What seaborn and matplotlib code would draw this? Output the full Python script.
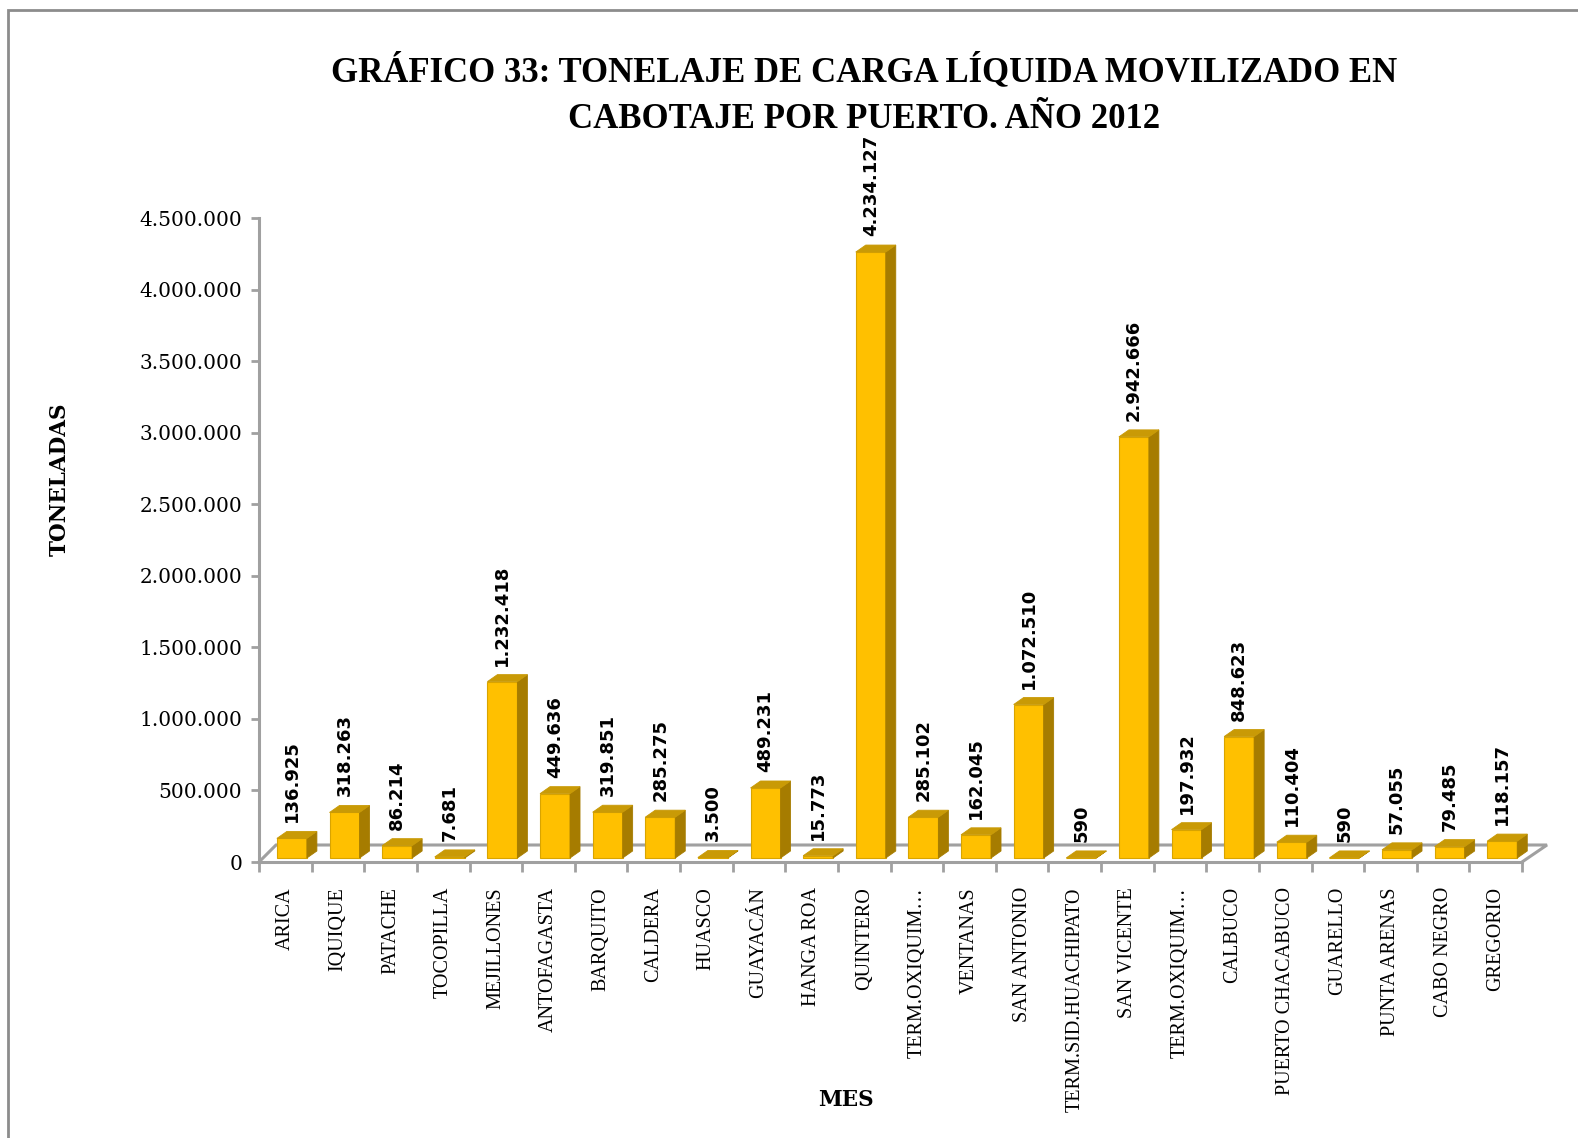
import matplotlib
matplotlib.use('Agg')
import numpy as np
import pandas as pd
import matplotlib.pyplot as plt
import seaborn as sns
from matplotlib.patches import Polygon, Rectangle

# --- data ---
puertos = ['ARICA', 'IQUIQUE', 'PATACHE', 'TOCOPILLA', 'MEJILLONES', 'ANTOFAGASTA',
           'BARQUITO', 'CALDERA', 'HUASCO', 'GUAYACÁN', 'HANGA ROA', 'QUINTERO',
           'TERM.OXIQUIM…', 'VENTANAS', 'SAN ANTONIO', 'TERM.SID.HUACHIPATO',
           'SAN VICENTE', 'TERM.OXIQUIM…', 'CALBUCO', 'PUERTO CHACABUCO',
           'GUARELLO', 'PUNTA ARENAS', 'CABO NEGRO', 'GREGORIO']
toneladas = [136925, 318263, 86214, 7681, 1232418, 449636,
             319851, 285275, 3500, 489231, 15773, 4234127,
             285102, 162045, 1072510, 590,
             2942666, 197932, 848623, 110404,
             590, 57055, 79485, 118157]
y_ticks = [0, 500000, 1000000, 1500000, 2000000, 2500000, 3000000, 3500000, 4000000, 4500000]

def fmt_es(v):
    return f'{v:,.0f}'.replace(',', '.')

W, H = 1578, 1138
sns.set_style('white')
plt.rcParams['text.color'] = 'black'
plt.rcParams['xtick.labelcolor'] = 'black'
plt.rcParams['ytick.labelcolor'] = 'black'
fig = plt.figure(figsize=(W / 100, H / 100), dpi=100)

# axes placed so that the front floor edge and value axis match the reference
x0, x1, y0, y1 = 259, 1522, 862, 218
ax = fig.add_axes([x0 / W, 1 - y0 / H, (x1 - x0) / W, (y0 - y1) / H])
n = len(puertos)
ymax = 4500000
px_x = (x1 - x0) / n          # pixels per category
px_y = (y0 - y1) / ymax       # pixels per tonne

df = pd.DataFrame({'puerto': [f'{i}' for i in range(n)], 'ton': toneladas})

front = '#FFC000'
side = '#A67C00'
top = '#C99A06'
edge = '#D9A400'

sns.barplot(data=df, x='puerto', y='ton', color=front, width=0.57, saturation=1,
            edgecolor=edge, linewidth=0.8, ax=ax, zorder=3)

shift = 0.125                 # bars sit in the middle of the floor depth
lift = 4 / px_y
ddx = 10 / px_x               # depth of bars (side face)
ddy = 7 / px_y
for p in ax.patches:
    p.set_x(p.get_x() + shift)
    p.set_y(lift)
    bx, bw, bh = p.get_x(), p.get_width(), p.get_height()
    b0, b1 = lift, lift + bh
    ax.add_patch(Polygon([[bx + bw, b0], [bx + bw + ddx, b0 + ddy], [bx + bw + ddx, b1 + ddy], [bx + bw, b1]],
                         closed=True, facecolor=side, edgecolor=side, lw=0.6, zorder=3, clip_on=False))
    ax.add_patch(Polygon([[bx, b1], [bx + ddx, b1 + ddy], [bx + bw + ddx, b1 + ddy], [bx + bw, b1]],
                         closed=True, facecolor=top, edgecolor=top, lw=0.6, zorder=3, clip_on=False))

# value labels
for i, v in enumerate(toneladas):
    ax.text(i + shift, v + lift + ddy + 9 / px_y, fmt_es(v), rotation=90, ha='center', va='bottom',
            fontsize=13, fontweight='bold', family='DejaVu Sans', color='black', zorder=5)

# 3D floor outline
gray = '#A0A0A0'
fdx_l, fdx_r, fdy = 17 / px_x, 25 / px_x, 17 / px_y
floor_x = [-0.5, -0.5 + fdx_l, n - 0.5 + fdx_r, n - 0.5]
floor_y = [0, fdy, fdy, 0]
ax.plot(floor_x, floor_y, color=gray, lw=2.2, clip_on=False, zorder=2, solid_joinstyle='miter')

ax.set_xlim(-0.5, n - 0.5)
ax.set_ylim(0, ymax)
for s in ['top', 'right']:
    ax.spines[s].set_visible(False)
for s in ['left', 'bottom']:
    ax.spines[s].set_color(gray)
    ax.spines[s].set_linewidth(2.2)

ax.set_yticks(y_ticks)
ax.set_yticklabels([fmt_es(t) for t in y_ticks], family='DejaVu Serif', fontsize=14.5)
ax.tick_params(axis='y', direction='out', length=6, width=2, color=gray, pad=6, left=True)

ax.set_xticks(range(n))
ax.set_xticklabels(puertos, rotation=90, family='Liberation Serif', fontsize=14.5, va='top')
ax.set_xticks(np.arange(-0.5, n, 1), minor=True)
ax.tick_params(axis='x', which='major', length=0, pad=18)
ax.tick_params(axis='x', which='minor', direction='out', length=7, width=2, color=gray, bottom=True)

ax.set_xlabel('')
ax.set_ylabel('')
fig.text(60 / W, 1 - 479 / H, 'TONELADAS', rotation=90, ha='center', va='center',
         family='DejaVu Serif', fontweight='bold', fontsize=15.5)
fig.text(846 / W, 1 - 1100 / H, 'MES', ha='center', va='center',
         family='DejaVu Serif', fontweight='bold', fontsize=15.5)

fig.text(864 / W, 1 - 95 / H, 'GRÁFICO 33: TONELAJE DE CARGA LÍQUIDA MOVILIZADO EN\nCABOTAJE POR PUERTO. AÑO 2012',
         ha='center', va='center', family='Liberation Serif', fontweight='bold', fontsize=25,
         linespacing=1.55)

# outer chart frame (runs off the right and bottom edges)
fig.patches.append(Rectangle((8 / W, -0.05), 1.1, 1 - 10 / H + 0.05, transform=fig.transFigure,
                             fill=False, edgecolor='#8C8C8C', lw=2, zorder=0))

plt.savefig('out.png', dpi=100)
plt.close()
